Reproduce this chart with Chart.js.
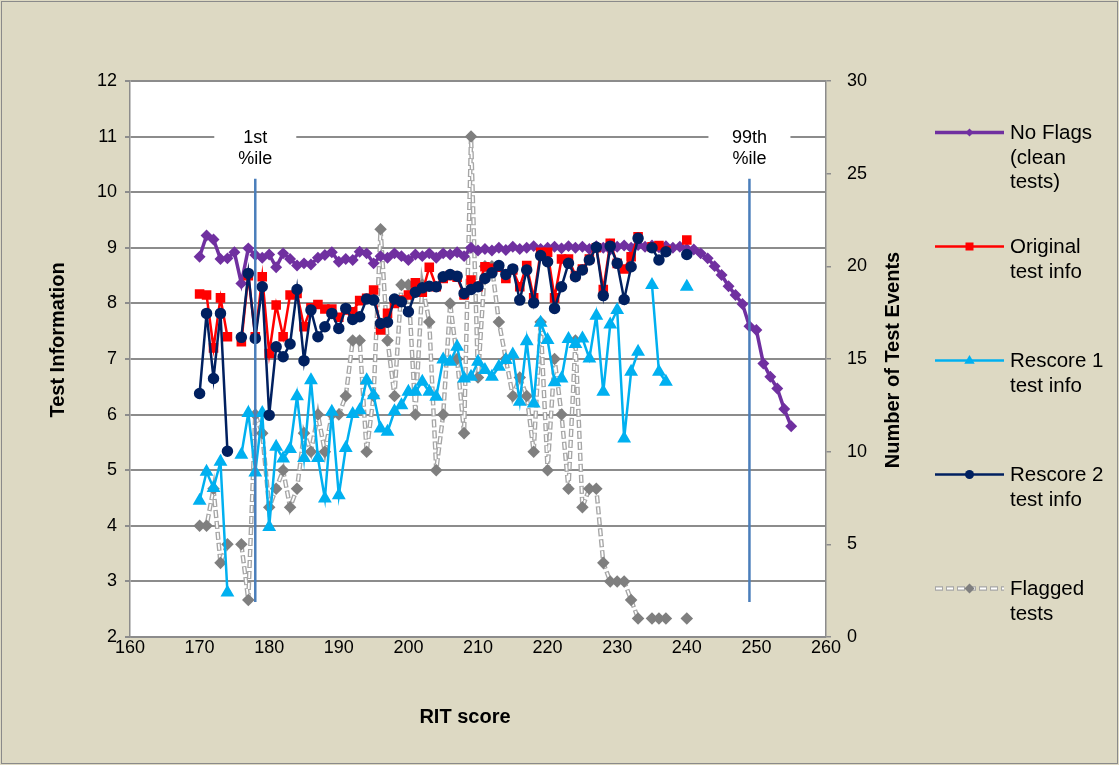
<!DOCTYPE html>
<html>
<head>
<meta charset="utf-8">
<style>
  html, body { margin: 0; padding: 0; background: #DDD9C3; }
  canvas { display: block; }
</style>
<script src="https://cdn.jsdelivr.net/npm/chart.js@4.4.1/dist/chart.umd.min.js"></script>
</head>
<body>
<canvas id="chart" width="1119" height="765"></canvas>
<script>
// RIT scores on the horizontal axis
const scores = [170,171,172,173,174,175,176,177,178,179,180,181,182,183,184,185,186,187,188,189,
  190,191,192,193,194,195,196,197,198,199,200,201,202,203,204,205,206,207,208,209,
  210,211,212,213,214,215,216,217,218,219,220,221,222,223,224,225,226,227,228,229,
  230,231,232,233,234,235,236,237,238,239,240,241,242,243,244,245,246,247,248,249,
  250,251,252,253,254,255];

// Test information, tests with no flags (170-255)
const noFlags = [8.84,9.22,9.15,8.80,8.81,8.92,8.36,8.99,8.87,8.82,
  8.88,8.65,8.90,8.80,8.68,8.72,8.70,8.82,8.87,8.92,
  8.75,8.80,8.78,8.93,8.90,8.72,8.85,8.82,8.90,8.85,
  8.78,8.88,8.85,8.90,8.82,8.90,8.88,8.92,8.85,9.00,
  8.95,8.98,8.95,9.00,8.96,9.02,8.98,9.00,9.03,8.98,
  9.00,9.02,8.99,9.03,9.00,9.02,8.98,9.03,9.00,8.97,
  9.02,9.04,9.00,9.05,9.02,9.04,9.01,9.03,9.00,9.02,
  8.98,8.97,8.90,8.81,8.67,8.51,8.31,8.15,7.99,7.59,
  7.52,6.92,6.68,6.47,6.10,5.79];

// Test information for flagged tests, 170-240 (null = no tests at that score)
const originalInfo = [8.17,8.15,7.20,8.10,7.40,null,7.31,8.50,7.40,8.48,
  7.10,7.97,7.40,8.15,8.18,7.58,7.92,7.98,7.90,7.90,
  7.75,7.88,7.85,8.05,8.09,8.24,7.52,7.82,8.00,8.06,
  8.15,8.37,8.20,8.65,8.30,8.45,8.50,8.47,8.15,8.42,
  8.30,8.66,8.63,8.65,8.45,8.60,8.30,8.68,8.10,8.92,
  8.92,8.10,8.80,8.80,8.50,8.62,8.80,9.00,8.25,9.08,
  8.72,8.62,8.84,9.20,null,9.02,9.04,8.95,null,null,
  9.14];

const rescore1Info = [4.45,4.97,4.68,5.15,2.80,null,5.28,6.03,4.96,6.03,
  3.98,5.42,5.21,5.38,6.33,5.22,6.62,5.22,4.49,6.05,
  4.55,5.40,6.01,6.08,6.62,6.35,5.75,5.69,6.06,6.17,
  6.41,6.41,6.59,6.41,6.32,6.99,6.95,7.22,6.65,6.68,
  6.95,6.80,6.68,6.86,6.98,7.08,6.23,7.32,6.20,7.65,
  7.34,6.58,6.65,7.36,7.27,7.37,7.01,7.78,6.41,7.62,
  7.88,5.57,6.77,7.13,null,8.33,6.77,6.59,null,null,
  8.30];

const rescore2Info = [6.38,7.82,6.65,7.82,5.34,null,7.39,8.54,7.37,8.30,
  5.99,7.22,7.04,7.27,8.25,6.97,7.88,7.40,7.58,7.82,
  7.55,7.91,7.71,7.76,8.08,8.06,7.64,7.66,8.08,8.03,
  7.85,8.20,8.28,8.31,8.30,8.48,8.52,8.49,8.18,8.25,
  8.30,8.45,8.55,8.68,8.52,8.62,8.06,8.60,8.01,8.86,
  8.75,7.91,8.30,8.72,8.48,8.60,8.78,9.01,8.14,9.03,
  8.72,8.07,8.66,9.17,null,9.00,8.78,8.93,null,null,
  8.88];

// Number of flagged test events (right axis)
const flaggedTests = [6,6,8,4,5,null,5,2,12,11,
  7,8,9,7,8,11,10,12,10,12,
  12,13,16,16,10,13,22,16,13,19,
  19,12,19,17,9,12,18,15,11,27,
  14,20,20,17,15,13,14,13,10,17,
  9,15,12,8,16,7,8,8,4,3,
  3,3,2,1,null,1,1,1,null,null,
  1];

// Percentile markers on the score axis
const percentileScores = [178, 249];
const percentileLabels = [['1st', '%ile'], ['99th', '%ile']];
const percentileSpan = [2.63, 10.24];

const xTicks = [160,170,180,190,200,210,220,230,240,250,260];

const FONT = "'Liberation Sans', Arial, sans-serif";
const C = {
  purple: '#7030A0', red: '#FF0000', cyan: '#00B0F0', navy: '#002060',
  grayLine: '#A6A6A6', grayMark: '#7F7F7F', pct: '#4A7EBB', grid: '#8C8C8C'
};

const toPoints = ys => ys.map((y, i) => ({ x: scores[i], y }));

const datasets = [
  { label: 'No Flags (clean tests)', data: toPoints(noFlags), yAxisID: 'y',
    borderColor: C.purple, backgroundColor: C.purple, borderWidth: 3.5,
    pointStyle: 'rectRot', pointRadius: 3.5, order: 5 },
  { label: 'Original test info', data: toPoints(originalInfo), yAxisID: 'y',
    borderColor: C.red, backgroundColor: C.red, borderWidth: 2.5,
    pointStyle: 'rect', pointRadius: 5, order: 4 },
  { label: 'Rescore 1 test info', data: toPoints(rescore1Info), yAxisID: 'y',
    borderColor: C.cyan, backgroundColor: C.cyan, borderWidth: 2.5,
    pointStyle: 'triangle', pointRadius: 5.5, order: 3 },
  { label: 'Rescore 2 test info', data: toPoints(rescore2Info), yAxisID: 'y',
    borderColor: C.navy, backgroundColor: C.navy, borderWidth: 2.5,
    pointStyle: 'circle', pointRadius: 4.5, order: 2 },
  // flagged tests: hollow dashes = wide gray dash under a narrower white dash
  { label: 'Flagged tests', data: toPoints(flaggedTests), yAxisID: 'y2',
    borderColor: C.grayLine, borderWidth: 4.5, borderDash: [8, 3],
    pointRadius: 0, order: 8 },
  { label: 'Flagged tests (inner)', data: toPoints(flaggedTests), yAxisID: 'y2',
    borderColor: '#FFFFFF', borderWidth: 1.8, borderDash: [6, 5], borderDashOffset: -1,
    pointStyle: 'rectRot', pointRadius: 5, backgroundColor: C.grayMark,
    pointBorderColor: C.grayMark, order: 7 }
];

percentileScores.forEach((s, i) => {
  datasets.push({ label: 'pct' + i, data: percentileSpan.map(v => ({ x: s, y: v })), yAxisID: 'y',
    borderColor: C.pct, borderWidth: 2.5, pointRadius: 0, order: 0 });
});

const legendItems = [
  { lines: ['No Flags', '(clean', 'tests)'], color: C.purple, width: 3.5, marker: 'diamond', size: 4 },
  { lines: ['Original', 'test info'], color: C.red, width: 2.5, marker: 'square', size: 4 },
  { lines: ['Rescore 1', 'test info'], color: C.cyan, width: 2.5, marker: 'triangle', size: 5.5 },
  { lines: ['Rescore 2', 'test info'], color: C.navy, width: 2.5, marker: 'circle', size: 4.5 },
  { lines: ['Flagged', 'tests'], color: C.grayMark, width: 4, marker: 'diamond', size: 5, hollow: true }
];

function drawMarker(ctx, kind, x, y, r, color) {
  ctx.save();
  ctx.fillStyle = color;
  ctx.beginPath();
  if (kind === 'diamond') {
    ctx.moveTo(x, y - r); ctx.lineTo(x + r, y); ctx.lineTo(x, y + r); ctx.lineTo(x - r, y);
  } else if (kind === 'square') {
    ctx.rect(x - r, y - r, 2 * r, 2 * r);
  } else if (kind === 'triangle') {
    ctx.moveTo(x, y - r); ctx.lineTo(x + r * 0.95, y + r * 0.6); ctx.lineTo(x - r * 0.95, y + r * 0.6);
  } else {
    ctx.arc(x, y, r, 0, Math.PI * 2);
  }
  ctx.closePath();
  ctx.fill();
  ctx.restore();
}

const decor = {
  id: 'decor',
  beforeDraw(chart) {
    const { ctx, chartArea: a, width, height } = chart;
    ctx.save();
    ctx.fillStyle = '#DDD9C3';
    ctx.fillRect(0, 0, width, height);
    ctx.strokeStyle = '#8A8A8A';
    ctx.lineWidth = 1;
    ctx.strokeRect(1.5, 1.5, width - 3, height - 3);
    ctx.fillStyle = '#FFFFFF';
    ctx.fillRect(a.left, a.top, a.right - a.left, a.bottom - a.top);
    ctx.restore();
  },
  afterDraw(chart) {
    const { ctx, scales } = chart;
    ctx.save();
    // percentile labels
    ctx.font = `18px ${FONT}`;
    ctx.textAlign = 'center';
    ctx.textBaseline = 'middle';
    percentileScores.forEach((s, i) => {
      const px = scales.x.getPixelForValue(s);
      const y11 = scales.y.getPixelForValue(11);
      ctx.fillStyle = '#FFFFFF';
      ctx.fillRect(px - 41, y11 - 10, 82, 40);
      ctx.fillStyle = '#000000';
      ctx.fillText(percentileLabels[i][0], px, y11 + 1);
      ctx.fillText(percentileLabels[i][1], px, y11 + 22);
    });
    // axis titles
    ctx.font = `bold 20px ${FONT}`;
    ctx.fillStyle = '#000000';
    ctx.fillText('RIT score', 465, 717);
    ctx.save();
    ctx.translate(58, 340);
    ctx.rotate(-Math.PI / 2);
    ctx.fillText('Test Information', 0, 0);
    ctx.restore();
    ctx.save();
    ctx.translate(893, 360);
    ctx.rotate(-Math.PI / 2);
    ctx.fillText('Number of Test Events', 0, 0);
    ctx.restore();
    // legend
    ctx.font = `20.5px ${FONT}`;
    ctx.textAlign = 'left';
    legendItems.forEach((it, i) => {
      const y = 132.5 + i * 114;
      const x0 = 935, x1 = 1004, xm = 969.5;
      ctx.save();
      ctx.beginPath();
      ctx.moveTo(x0, y); ctx.lineTo(x1, y);
      if (it.hollow) {
        ctx.strokeStyle = C.grayLine; ctx.lineWidth = 4.5; ctx.setLineDash([8, 3]); ctx.stroke();
        ctx.strokeStyle = '#FFFFFF'; ctx.lineWidth = 1.8; ctx.setLineDash([6, 5]); ctx.lineDashOffset = -1; ctx.stroke();
      } else {
        ctx.strokeStyle = it.color; ctx.lineWidth = it.width; ctx.stroke();
      }
      ctx.restore();
      drawMarker(ctx, it.marker, xm, y, it.size, it.color);
      ctx.fillStyle = '#000000';
      it.lines.forEach((t, k) => ctx.fillText(t, 1010, y + 1 + k * 24.5));
    });
    ctx.restore();
  }
};

new Chart(document.getElementById('chart'), {
  type: 'line',
  data: { datasets },
  options: {
    responsive: false,
    animation: false,
    devicePixelRatio: 1,
    layout: { padding: { left: 43, right: 213, top: 81, bottom: 78 } },
    plugins: { legend: { display: false }, tooltip: { enabled: false } },
    elements: { line: { tension: 0 } },
    scales: {
      x: {
        type: 'linear', min: 160, max: 260,
        afterBuildTicks: s => { s.ticks = xTicks.map(v => ({ value: v })); },
        ticks: { color: '#000', font: { size: 18, family: FONT }, padding: 0, maxRotation: 0 },
        grid: { drawOnChartArea: false, drawTicks: false, color: C.grid, lineWidth: 1.5 },
        border: { color: C.grid, width: 1.5 },
        afterFit: s => { s.height = 50; }
      },
      y: {
        position: 'left', min: 2, max: 12,
        ticks: { stepSize: 1, color: '#000', font: { size: 18, family: FONT }, padding: 8 },
        grid: { color: C.grid, lineWidth: 2, tickLength: 5 },
        border: { color: C.grid, width: 1.5 },
        afterFit: s => { s.width = 87; }
      },
      y2: {
        position: 'right', min: 0, max: 30,
        ticks: { stepSize: 5, color: '#000', font: { size: 18, family: FONT }, padding: 16 },
        grid: { drawOnChartArea: false, color: C.grid, lineWidth: 1.5, tickLength: 5 },
        border: { color: C.grid, width: 1.5 },
        afterFit: s => { s.width = 80; }
      }
    }
  },
  plugins: [decor]
});
</script>
</body>
</html>
